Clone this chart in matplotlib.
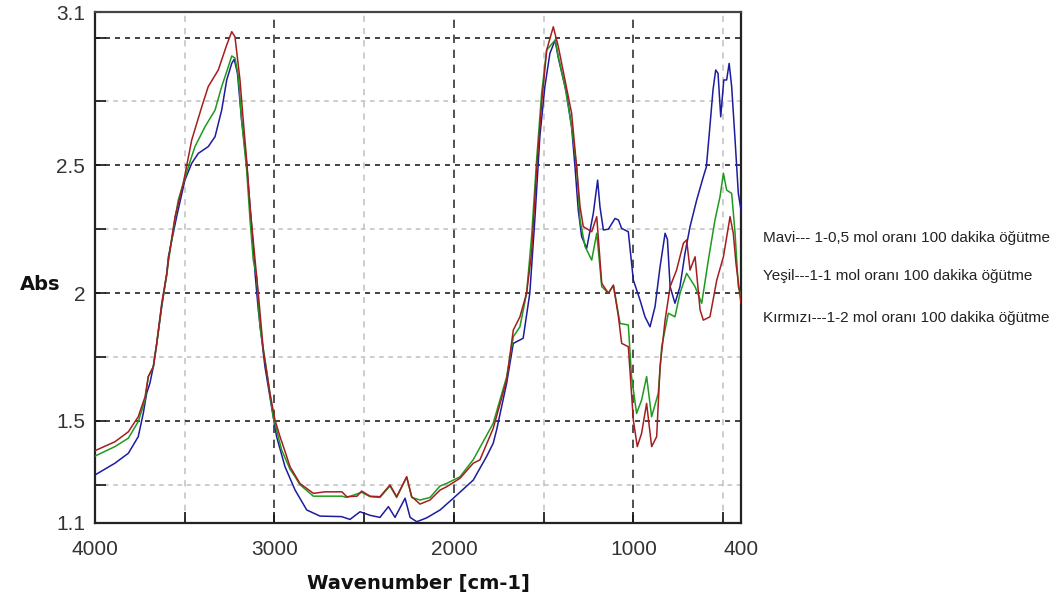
import matplotlib
matplotlib.use("Agg")
import matplotlib.pyplot as plt
import numpy as np

# FTIR spektrumlari
wn_red = [4000, 3889, 3814, 3759, 3721, 3703, 3675, 3656, 3628, 3600, 3591, 3554, 3508, 3461,
          3405, 3369, 3313, 3266, 3238, 3220, 3192, 3174, 3155, 3136, 3108, 3090, 3062, 3025,
          2997, 2969, 2941, 2913, 2858, 2783, 2718, 2624, 2597, 2540, 2514, 2467, 2412, 2356,
          2319, 2263, 2235, 2189, 2133, 2077, 2040, 1966, 1892, 1855, 1781, 1706, 1669, 1632,
          1595, 1567, 1539, 1511, 1483, 1446, 1418, 1381, 1344, 1316, 1297, 1279, 1232, 1204,
          1176, 1139, 1111, 1083, 1065, 1028, 1019, 1000, 978, 954, 926, 898, 870, 851, 823,
          795, 759, 721, 703, 684, 656, 628, 610, 573, 535, 498, 461, 443, 428, 400]
abs_red = [1.383, 1.418, 1.457, 1.516, 1.594, 1.673, 1.712, 1.803, 1.96, 2.077, 2.129, 2.299,
           2.43, 2.599, 2.729, 2.808, 2.873, 2.971, 3.023, 3.003, 2.834, 2.677, 2.521, 2.338,
           2.129, 1.999, 1.777, 1.608, 1.503, 1.438, 1.38, 1.32, 1.255, 1.216, 1.222, 1.222,
           1.203, 1.205, 1.225, 1.205, 1.203, 1.249, 1.203, 1.281, 1.203, 1.174, 1.19, 1.229,
           1.242, 1.275, 1.334, 1.347, 1.47, 1.66, 1.855, 1.907, 1.999, 2.156, 2.482, 2.743,
           2.951, 3.042, 2.964, 2.834, 2.704, 2.494, 2.338, 2.26, 2.24, 2.299, 2.038, 1.999,
           2.031, 1.907, 1.803, 1.79, 1.699, 1.503, 1.399, 1.451, 1.568, 1.399, 1.438, 1.712,
           1.894, 2.025, 2.09, 2.195, 2.208, 2.09, 2.142, 1.934, 1.894, 1.907, 2.051, 2.142,
           2.299, 2.234, 2.116, 1.96]

wn_green = [4000, 3889, 3814, 3759, 3721, 3703, 3675, 3656, 3628, 3600, 3591, 3554, 3536, 3480,
            3443, 3387, 3331, 3294, 3257, 3238, 3220, 3201, 3183, 3155, 3136, 3118, 3099, 3081,
            3044, 3007, 2960, 2913, 2885, 2858, 2783, 2718, 2624, 2597, 2514, 2467, 2412, 2356,
            2319, 2263, 2235, 2189, 2133, 2077, 2040, 1966, 1892, 1781, 1706, 1669, 1632, 1595,
            1567, 1539, 1511, 1483, 1436, 1418, 1381, 1344, 1316, 1297, 1269, 1232, 1204, 1176,
            1139, 1111, 1074, 1028, 1010, 982, 954, 926, 898, 861, 842, 805, 768, 740, 703, 656,
            619, 582, 545, 517, 498, 480, 452, 433, 415, 400]
abs_green = [1.362, 1.399, 1.432, 1.497, 1.581, 1.673, 1.71, 1.80, 1.955, 2.07, 2.125, 2.29,
             2.364, 2.494, 2.573, 2.651, 2.716, 2.808, 2.886, 2.928, 2.92, 2.847, 2.677, 2.482,
             2.286, 2.129, 2.064, 1.868, 1.699, 1.516, 1.386, 1.31, 1.281, 1.25, 1.205, 1.205,
             1.205, 1.2, 1.22, 1.203, 1.2, 1.245, 1.2, 1.28, 1.2, 1.19, 1.2, 1.245, 1.255,
             1.281, 1.348, 1.49, 1.672, 1.829, 1.868, 1.999, 2.221, 2.521, 2.782, 2.951, 2.99,
             2.925, 2.808, 2.651, 2.494, 2.286, 2.182, 2.129, 2.234, 2.025, 2.0, 2.03, 1.881,
             1.875, 1.673, 1.529, 1.581, 1.673, 1.516, 1.608, 1.79, 1.921, 1.907, 1.999, 2.077,
             2.025, 1.96, 2.129, 2.286, 2.377, 2.469, 2.403, 2.39, 2.234, 2.025, 1.99]

wn_blue = [4000, 3889, 3814, 3759, 3731, 3712, 3694, 3675, 3656, 3628, 3600, 3591, 3545, 3499,
           3461, 3424, 3369, 3331, 3294, 3266, 3238, 3224, 3206, 3183, 3155, 3136, 3118, 3108,
           3090, 3053, 3016, 2988, 2941, 2885, 2820, 2746, 2626, 2579, 2523, 2467, 2412, 2365,
           2328, 2272, 2244, 2207, 2152, 2077, 2003, 1892, 1818, 1781, 1762, 1706, 1669, 1614,
           1577, 1549, 1521, 1493, 1465, 1436, 1418, 1372, 1344, 1325, 1307, 1288, 1260, 1223,
           1199, 1186, 1167, 1139, 1102, 1083, 1065, 1028, 1000, 963, 935, 907, 879, 851, 823,
           810, 795, 768, 740, 712, 684, 647, 610, 593, 575, 556, 541, 528, 513, 496, 480,
           466, 452, 433, 415, 400]
abs_blue = [1.288, 1.334, 1.373, 1.438, 1.529, 1.608, 1.647, 1.712, 1.803, 1.947, 2.077, 2.142,
            2.299, 2.442, 2.508, 2.547, 2.573, 2.612, 2.716, 2.834, 2.899, 2.915, 2.86, 2.677,
            2.508, 2.338, 2.181, 2.077, 1.934, 1.712, 1.555, 1.438, 1.32, 1.229, 1.151, 1.127,
            1.125, 1.114, 1.144, 1.13, 1.122, 1.164, 1.122, 1.197, 1.122, 1.105, 1.12, 1.151,
            1.197, 1.268, 1.36, 1.412, 1.464, 1.647, 1.803, 1.823, 1.999, 2.286, 2.612, 2.808,
            2.938, 2.99, 2.92, 2.782, 2.65, 2.494, 2.325, 2.221, 2.175, 2.312, 2.442, 2.338,
            2.247, 2.25, 2.292, 2.286, 2.253, 2.24, 2.051, 1.973, 1.907, 1.868, 1.947, 2.103,
            2.234, 2.21, 2.025, 1.96, 2.025, 2.156, 2.26, 2.364, 2.455, 2.494, 2.638, 2.795,
            2.873, 2.86, 2.69, 2.834, 2.834, 2.899, 2.808, 2.599, 2.39, 2.325]

legend_lines = ["Mavi--- 1-0,5 mol oranı 100 dakika öğütme",
                "Yeşil---1-1 mol oranı 100 dakika öğütme",
                "Kırmızı---1-2 mol oranı 100 dakika öğütme"]

x_major = [3000, 2000, 1000]
x_minor = [3500, 2500, 1500, 500]
y_major = [1.5, 2.0, 2.5, 3.0]
y_minor = [1.25, 1.75, 2.25, 2.75]

fig = plt.figure(figsize=(10.59, 6.07), dpi=100)
ax = fig.add_axes([95 / 1059, 1 - 523 / 607, 646 / 1059, 511 / 607])

for v in y_minor:
    ax.axhline(v, color="#c0c0c0", lw=1.1, ls=(0, (3, 3)), zorder=1)
for v in x_minor:
    ax.axvline(v, color="#c0c0c0", lw=1.1, ls=(0, (4, 4)), zorder=1)
for v in y_major:
    ax.axhline(v, color="#222222", lw=1.2, ls=(0, (3, 3)), zorder=1)
for v in x_major:
    ax.axvline(v, color="#333333", lw=1.2, ls=(0, (5, 4)), zorder=1)

ax.plot(wn_blue, abs_blue, color="#1c1c9e", lw=1.1, zorder=3)
ax.plot(wn_green, abs_green, color="#1f9a1f", lw=1.1, zorder=3)
ax.plot(wn_red, abs_red, color="#a31f1f", lw=1.1, zorder=4)

ax.set_xlim(4000, 400)
ax.set_ylim(1.1, 3.1)

ax.set_xticks([4000, 3500, 3000, 2500, 2000, 1500, 1000, 500, 400])
ax.set_xticklabels(["4000", "", "3000", "", "2000", "", "1000", "", "400"])
ax.set_yticks([1.1, 1.25, 1.5, 1.75, 2.0, 2.25, 2.5, 2.75, 3.0, 3.1])
ax.set_yticklabels(["1.1", "", "1.5", "", "2", "", "2.5", "", "", "3.1"])
ax.tick_params(direction="in", length=8, width=1.2, labelsize=15,
               labelcolor="#333333", color="#111111")
ax.tick_params(axis="x", pad=12)
ax.tick_params(axis="y", pad=7)
for lab in ax.get_xticklabels() + ax.get_yticklabels():
    lab.set_family(["Liberation Sans", "DejaVu Sans"])

for s in ["left", "bottom", "right"]:
    ax.spines[s].set_linewidth(1.6)
    ax.spines[s].set_color("#222222")
ax.spines["top"].set_linewidth(1.6)
ax.spines["top"].set_color("#444444")

fig.text(40 / 1059, 1 - 285 / 607, "Abs", fontsize=14, fontweight="bold",
         ha="center", va="center", color="#111111")
fig.text(418 / 1059, 1 - 583 / 607, "Wavenumber [cm-1]", fontsize=14, fontweight="bold",
         ha="center", va="center", color="#111111")

for txt, yy in zip(legend_lines, [238, 276, 318]):
    fig.text(763 / 1059, 1 - yy / 607, txt, fontsize=11, ha="left", va="center",
             color="#222222", family=["Liberation Sans Narrow", "Liberation Sans", "DejaVu Sans"])

fig.savefig("out.png", dpi=100)
